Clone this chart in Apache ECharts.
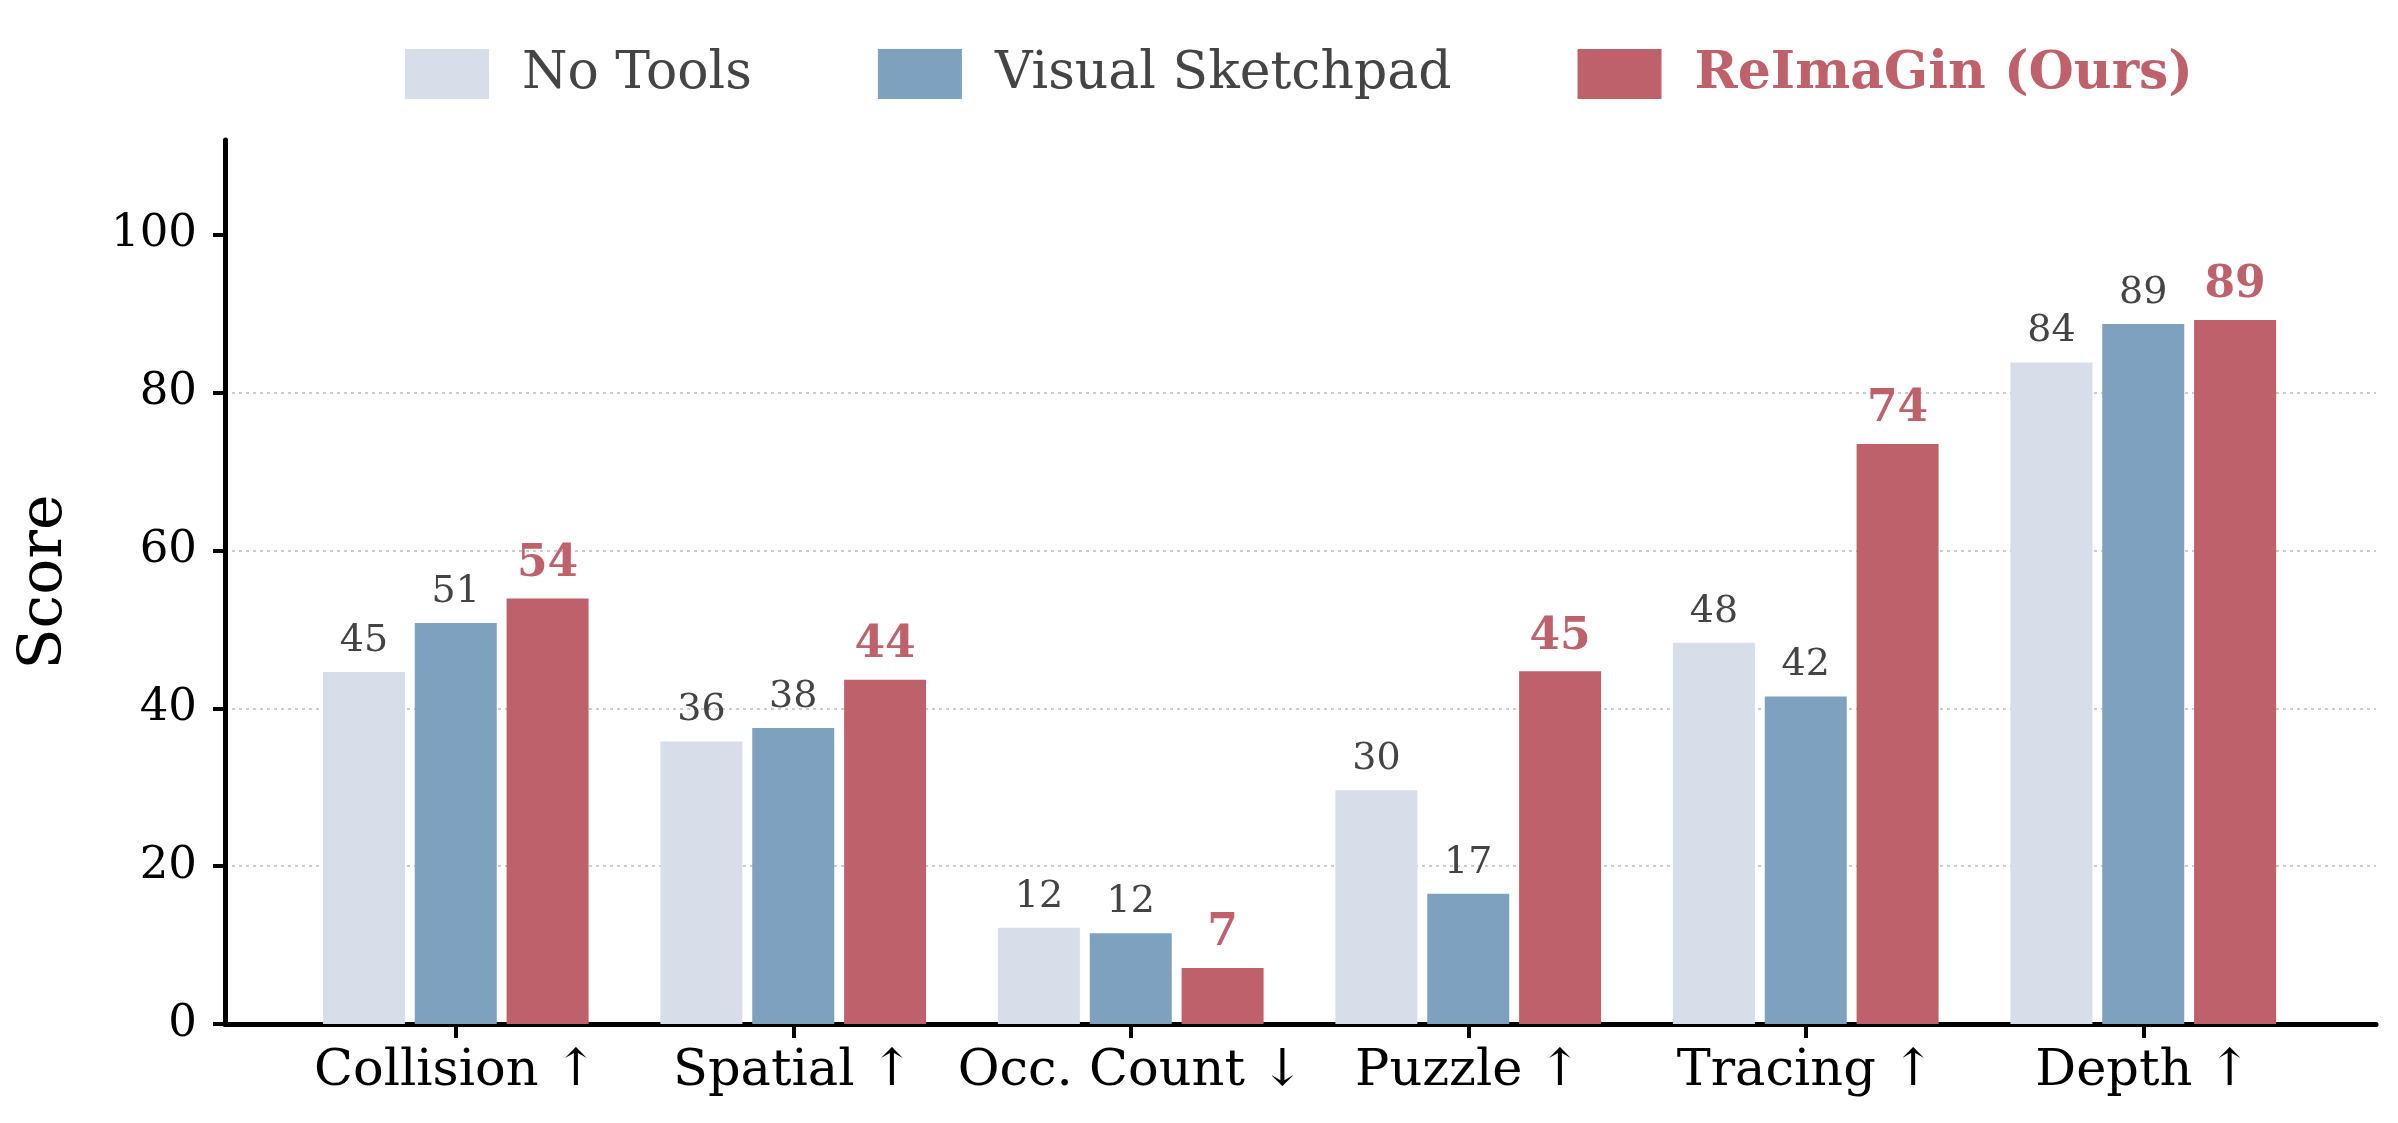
<!DOCTYPE html>
<html>
<head>
<meta charset="utf-8">
<script src="https://cdn.jsdelivr.net/npm/echarts@6/dist/echarts.min.js"></script>
<style>
    html, body { margin: 0; padding: 0; background: #fff; }
    #main { width: 2398px; height: 1123px; }
</style>
</head>
<body>
<div id="main"></div>
<script>
const categories = ['Collision ↑', 'Spatial ↑', 'Occ. Count ↓', 'Puzzle ↑', 'Tracing ↑', 'Depth ↑'];
const seriesNames = ['No Tools', 'Visual Sketchpad', 'ReImaGin (Ours)'];
const noTools = [44.6, 35.8, 12.2, 29.6, 48.3, 83.8];
const sketchpad = [50.8, 37.5, 11.5, 16.5, 41.5, 88.7];
const reimagin = [53.9, 43.6, 7.1, 44.7, 73.5, 89.2];
const yTicks = [0, 20, 40, 60, 80, 100];

const font = 'DejaVu Serif';
const colors = ['#d7dee9', '#7fa1c0', '#bf616b'];

function getChart() {
    let chartDom = document.getElementById('main');
    let myChart = echarts.init(chartDom);

    // plain label for the baselines, bold red one for ours
    let plainLabel = {
        show: true,
        position: 'top',
        distance: 12,
        fontFamily: font,
        fontSize: 38,
        color: '#444',
        formatter: p => Math.round(p.value)
    };
    let oursLabel = Object.assign({}, plainLabel, {
        fontSize: 44,
        fontWeight: 'bold',
        color: colors[2]
    });

    let bars = [noTools, sketchpad, reimagin].map((values, i) => ({
        name: seriesNames[i],
        type: 'bar',
        xAxisIndex: 1,
        yAxisIndex: 1,
        barWidth: 82,
        barGap: '12%',
        data: values,
        itemStyle: { color: colors[i] },
        label: i === 2 ? oursLabel : plainLabel,
        z: 3
    }));

    let option = {
        animation: false,
        backgroundColor: '#fff',
        textStyle: { fontFamily: font },
        legend: {
            left: 400,
            top: 43,
            itemWidth: 84,
            itemHeight: 50,
            itemGap: 126,
            icon: 'rect',
            textStyle: { fontFamily: font, fontSize: 52, color: '#444', padding: [0, 0, 0, 28] },
            data: [
                { name: seriesNames[0] },
                { name: seriesNames[1] },
                { name: seriesNames[2], textStyle: { color: colors[2], fontWeight: 'bold' } }
            ]
        },
        grid: [
            // axes frame
            { left: 225, right: 22, top: 140, bottom: 99 },
            // bar area (matplotlib margins inside the frame)
            { left: 287, right: 86, top: 140, bottom: 99 }
        ],
        xAxis: [{
            gridIndex: 0,
            type: 'value',
            min: 0,
            max: 1,
            axisLine: { show: true, lineStyle: { color: '#000', width: 5 } },
            axisTick: { show: false },
            axisLabel: { show: false },
            splitLine: { show: false }
        }, {
            gridIndex: 1,
            type: 'category',
            data: categories,
            axisLine: { show: true, lineStyle: { color: 'rgba(0,0,0,0)', width: 1 } },
            axisTick: { show: true, interval: 0, alignWithLabel: true, length: 14, lineStyle: { color: '#000', width: 4 } },
            axisLabel: { interval: 0, fontFamily: font, fontSize: 51, color: '#000', margin: 22 }
        }],
        yAxis: [{
            gridIndex: 0,
            type: 'value',
            min: 0,
            max: 112,
            interval: 20,
            name: 'Score',
            nameLocation: 'middle',
            nameGap: 150,
            nameTextStyle: { fontFamily: font, fontSize: 60, color: '#000' },
            axisLine: { show: true, lineStyle: { color: '#000', width: 5 } },
            axisTick: { show: true, length: 12, customValues: yTicks, lineStyle: { color: '#000', width: 4 } },
            axisLabel: { fontFamily: font, fontSize: 45, color: '#000', margin: 28, customValues: yTicks },
            splitLine: {
                show: true,
                showMinLine: false,
                showMaxLine: false,
                lineStyle: { color: '#cccccc', width: 2, type: [3, 4] }
            }
        }, {
            gridIndex: 1,
            type: 'value',
            min: 0,
            max: 112,
            show: false
        }],
        series: [{
            type: 'line',
            xAxisIndex: 0,
            yAxisIndex: 0,
            data: [],
            silent: true
        }].concat(bars)
    };
    myChart.setOption(option);
}

window.addEventListener('load', getChart);
</script>
</body>
</html>
